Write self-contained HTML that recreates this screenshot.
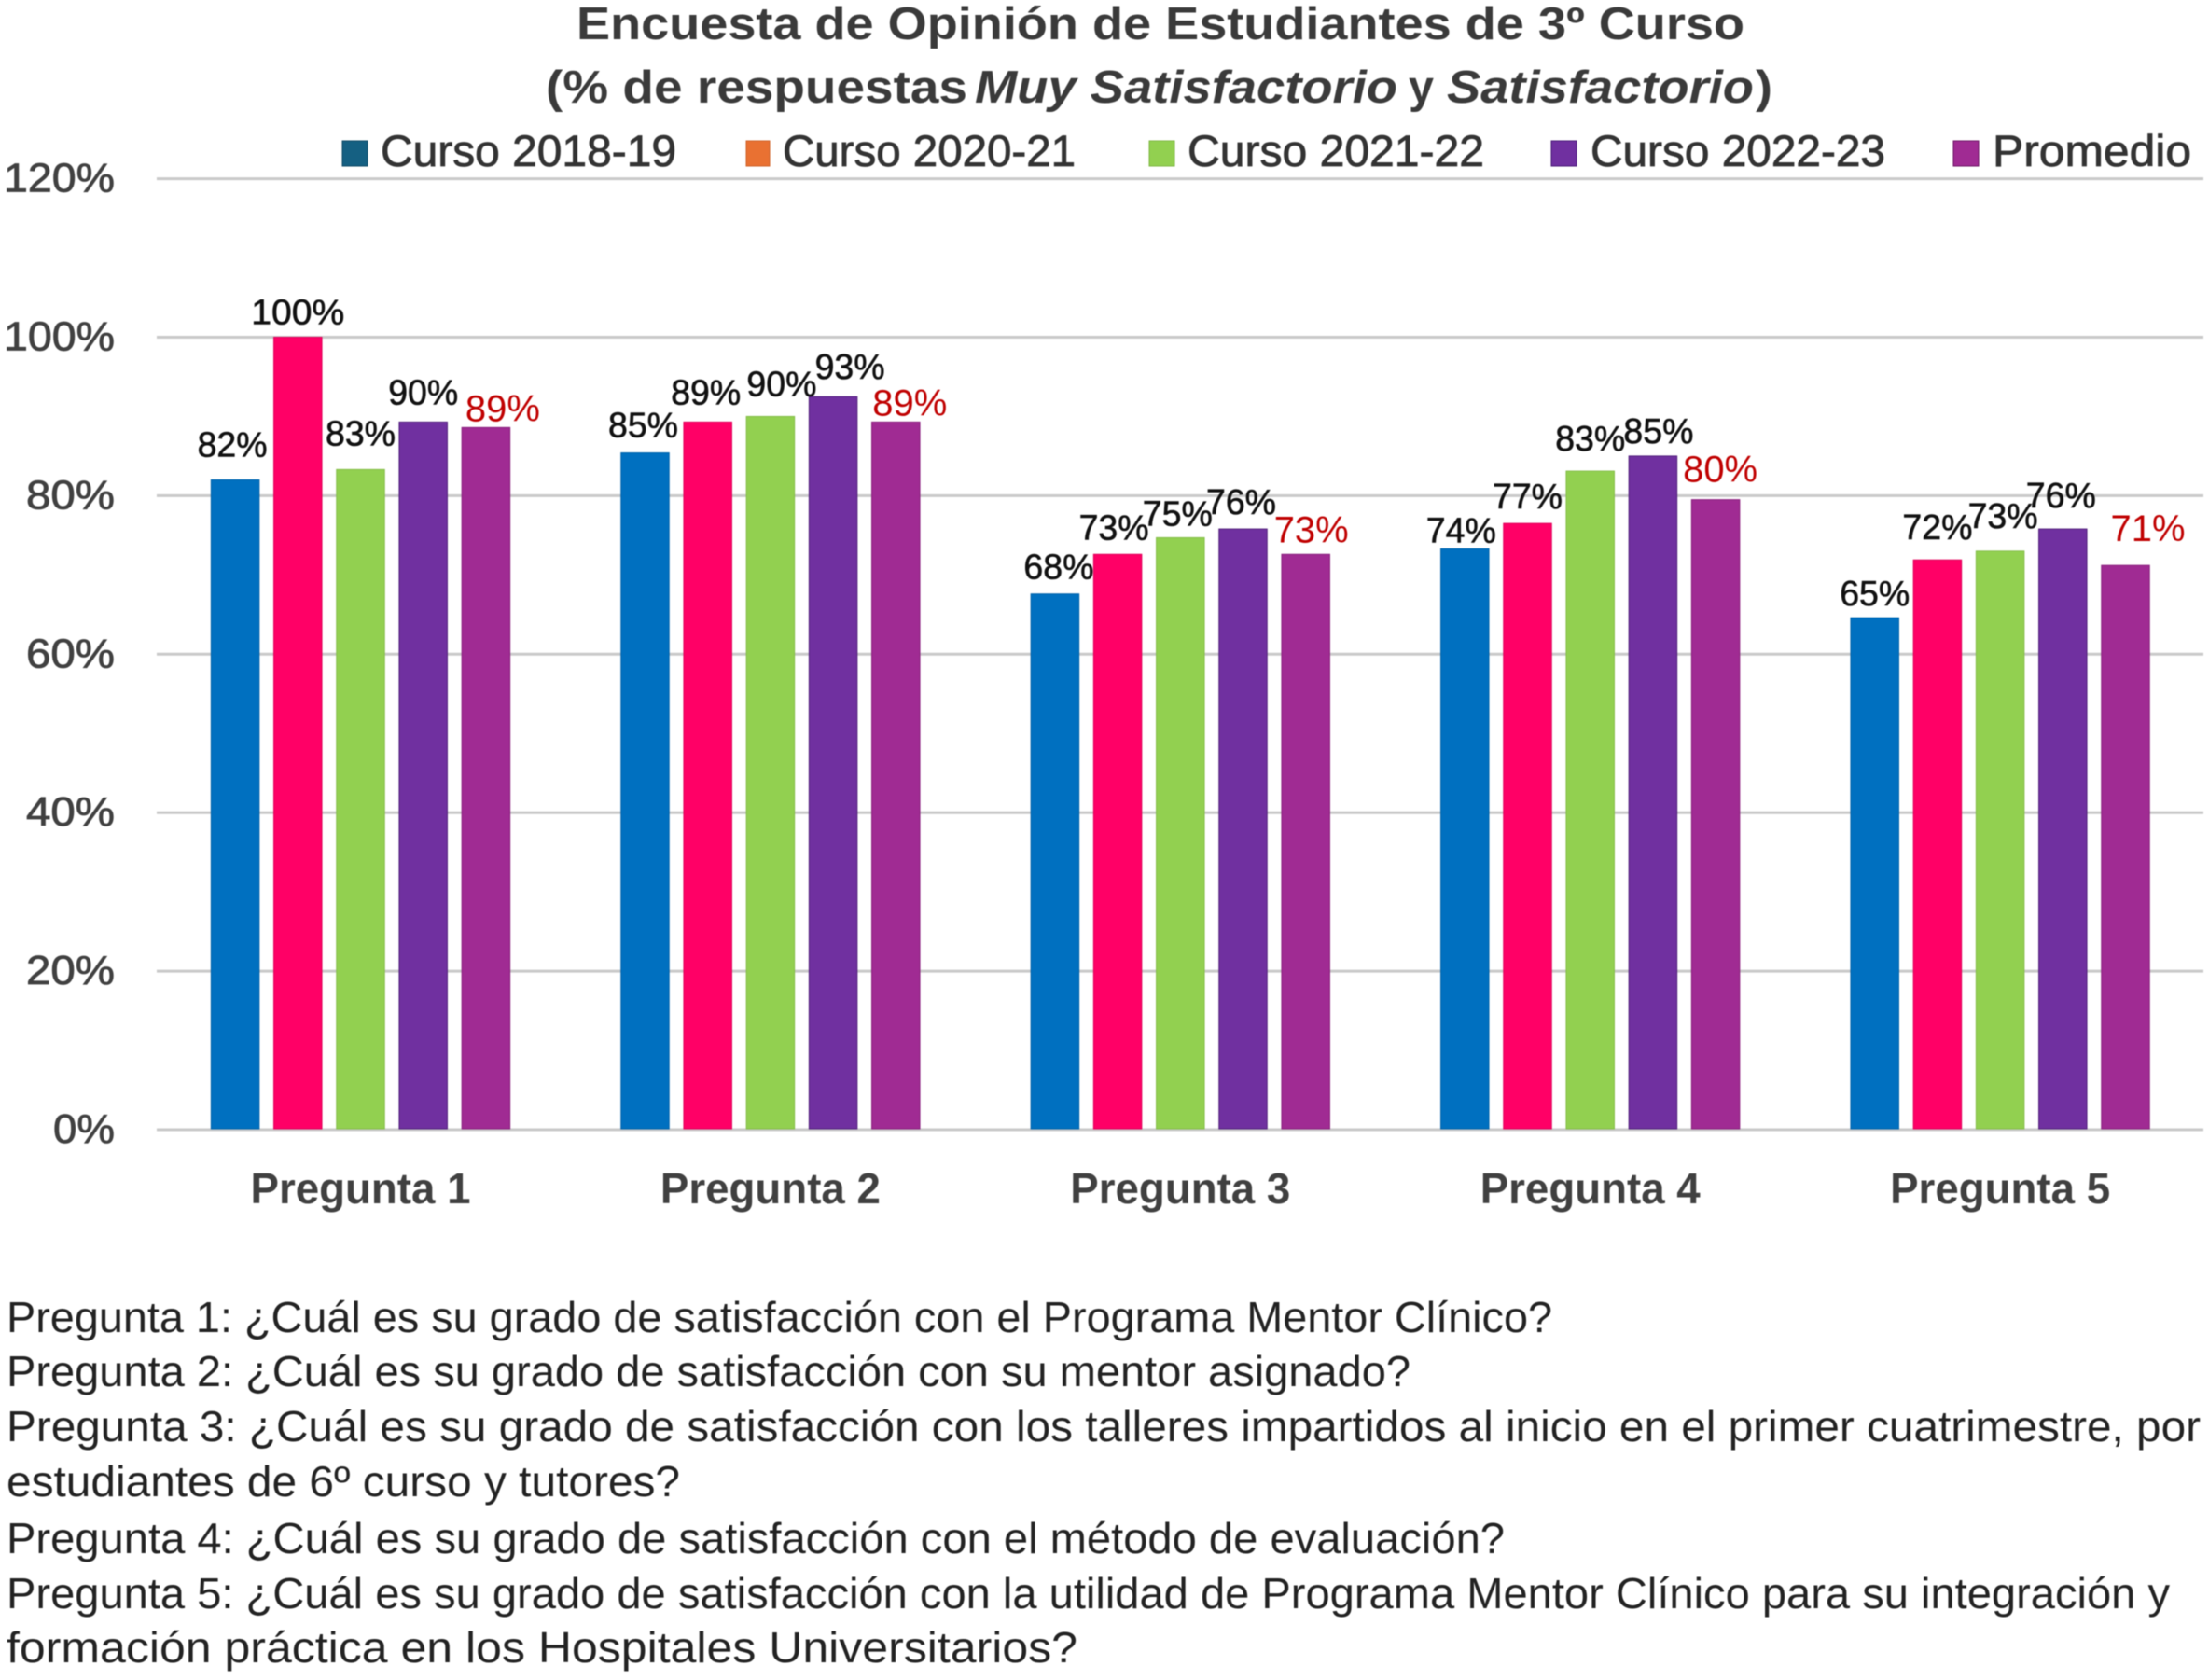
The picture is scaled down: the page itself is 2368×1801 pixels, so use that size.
<!DOCTYPE html>
<html lang="es">
<head>
<meta charset="utf-8">
<title>Encuesta de Opinión de Estudiantes de 3º Curso</title>
<style>
html,body{margin:0;padding:0;background:#fff;width:2368px;height:1801px;overflow:hidden}
svg{display:block;filter:blur(0.6px)}
text{font-family:"Liberation Sans",sans-serif}
.title{font-size:49px;font-weight:700;fill:#3a3a3a}
.legend{font-size:47px;fill:#333;font-weight:400;stroke:#333;stroke-width:.8px}
.tick{font-size:44px;fill:#404040;stroke:#404040;stroke-width:.8px}
.cat{font-size:46px;fill:#404040;font-weight:700}
.dl{font-size:38px;fill:#111;stroke:#111;stroke-width:.6px}
.note{font-size:46px;fill:#222}
</style>
</head>
<body>
<svg id="chart" xmlns="http://www.w3.org/2000/svg" width="2368" height="1801" viewBox="0 0 2368 1801">
  <rect x="0" y="0" width="2368" height="1801" fill="#ffffff"/>
  <text class="title" x="618" y="42" textLength="1252" lengthAdjust="spacingAndGlyphs">Encuesta de Opinión de Estudiantes de 3º Curso</text>
  <text class="title" x="585" y="110" textLength="452" lengthAdjust="spacingAndGlyphs">(% de respuestas</text>
  <text class="title" font-style="italic" x="1045" y="110" textLength="453" lengthAdjust="spacingAndGlyphs">Muy Satisfactorio</text>
  <text class="title" x="1510" y="110" textLength="27" lengthAdjust="spacingAndGlyphs">y</text>
  <text class="title" font-style="italic" x="1551" y="110" textLength="329" lengthAdjust="spacingAndGlyphs">Satisfactorio</text>
  <text class="title" x="1882" y="110" textLength="18" lengthAdjust="spacingAndGlyphs">)</text>

  <g>
    <rect x="367" y="151" width="27" height="27" fill="#156082" stroke="#0f4a66" stroke-width="1"/>
    <text class="legend" x="408" y="178" textLength="317" lengthAdjust="spacingAndGlyphs">Curso 2018-19</text>
    <rect x="800" y="151" width="25" height="27" fill="#E97132" stroke="#d0622a" stroke-width="1"/>
    <text class="legend" x="839" y="178" textLength="314" lengthAdjust="spacingAndGlyphs">Curso 2020-21</text>
    <rect x="1232" y="151" width="27" height="27" fill="#92D050" stroke="#7fb845" stroke-width="1"/>
    <text class="legend" x="1273" y="178" textLength="318" lengthAdjust="spacingAndGlyphs">Curso 2021-22</text>
    <rect x="1663" y="151" width="27" height="27" fill="#7030A0" stroke="#4a1a78" stroke-width="1"/>
    <text class="legend" x="1705" y="178" textLength="316" lengthAdjust="spacingAndGlyphs">Curso 2022-23</text>
    <rect x="2094" y="151" width="27" height="27" fill="#A02B93" stroke="#6e1566" stroke-width="1"/>
    <text class="legend" x="2136" y="178" textLength="213" lengthAdjust="spacingAndGlyphs">Promedio</text>
  </g>

  <g id="grid"></g>
  <g id="yticks"></g>
  <g id="bars"></g>
  <g id="labels"></g>
  <g id="cats"></g>

  <g>
    <text class="note" x="7" y="1428" textLength="1657" lengthAdjust="spacingAndGlyphs">Pregunta 1: ¿Cuál es su grado de satisfacción con el Programa Mentor Clínico?</text>
    <text class="note" x="7" y="1486" textLength="1505" lengthAdjust="spacingAndGlyphs">Pregunta 2: ¿Cuál es su grado de satisfacción con su mentor asignado?</text>
    <text class="note" x="7" y="1545" textLength="2352" lengthAdjust="spacingAndGlyphs">Pregunta 3: ¿Cuál es su grado de satisfacción con los talleres impartidos al inicio en el primer cuatrimestre, por</text>
    <text class="note" x="7" y="1604" textLength="722" lengthAdjust="spacingAndGlyphs">estudiantes de 6º curso y tutores?</text>
    <text class="note" x="7" y="1665" textLength="1606" lengthAdjust="spacingAndGlyphs">Pregunta 4: ¿Cuál es su grado de satisfacción con el método de evaluación?</text>
    <text class="note" x="7" y="1724" textLength="2319" lengthAdjust="spacingAndGlyphs">Pregunta 5: ¿Cuál es su grado de satisfacción con la utilidad de Programa Mentor Clínico para su integración y</text>
    <text class="note" x="7" y="1782" textLength="1148" lengthAdjust="spacingAndGlyphs">formación práctica en los Hospitales Universitarios?</text>
  </g>
</svg>
<script>
const categories = ["Pregunta 1", "Pregunta 2", "Pregunta 3", "Pregunta 4", "Pregunta 5"];
const seriesNames = ["curso-2018-19", "curso-2020-21", "curso-2021-22", "curso-2022-23", "promedio"];
const curso201819 = [82, 85.4, 67.6, 73.3, 64.6];
const curso202021 = [100, 89.3, 72.6, 76.5, 71.9];
const curso202122 = [83.3, 90, 74.7, 83.1, 73];
const curso202223 = [89.3, 92.5, 75.8, 85, 75.8];
const promedio = [88.6, 89.3, 72.6, 79.5, 71.2];
const labels201819 = ["82%", "85%", "68%", "74%", "65%"];
const labels202021 = ["100%", "89%", "73%", "77%", "72%"];
const labels202122 = ["83%", "90%", "75%", "83%", "73%"];
const labels202223 = ["90%", "93%", "76%", "85%", "76%"];
const labelsPromedio = ["89%", "89%", "73%", "80%", "71%"];
const tickValues = [0, 20, 40, 60, 80, 100, 120];
const tickLabels = ["0%", "20%", "40%", "60%", "80%", "100%", "120%"];

const allValues = [curso201819, curso202021, curso202122, curso202223, promedio];
const allLabels = [labels201819, labels202021, labels202122, labels202223, labelsPromedio];
const barColors = ["#0070C0", "#FF0066", "#92D050", "#7030A0", "#A02B93"];
const barEdges = ["#0063ab", "#e0005a", "#84bd48", "#52207d", "#8a1f7e"];
// hand-placed label offsets from each bar's default spot (series, then category)
const nudgeX = [[-3,-2,4,-4,0],[0,-2,-4,0,0],[0,12,-3,0,3],[0,18,-2,6,-2],[18,15,6,5,24]];
const nudgeY = [[38,30,29,20,26],[27,32,29,29,35],[39,35,26,35,38],[32,32,29,27,36],[20,20,26,32,39]];

const NS = "http://www.w3.org/2000/svg";
const plotLeft = 168, plotRight = 2362, baseY = 1211, pxPerPct = 8.495;
const catW = 439.4, firstCenter = 386.5;
const barW = 51.5, barStep = 67.2;
function yScale(v) { return baseY - v * pxPerPct; }
function catCenter(i) { return firstCenter + catW * i; }
function barCenter(i, s) { return catCenter(i) + (s - (allValues.length - 1) / 2) * barStep; }
function make(tag, attrs, parent, txt) {
  const el = document.createElementNS(NS, tag);
  for (const k in attrs) el.setAttribute(k, attrs[k]);
  if (txt !== undefined) el.textContent = txt;
  parent.appendChild(el);
  return el;
}
const gGrid = document.getElementById("grid");
const gTicks = document.getElementById("yticks");
const gBars = document.getElementById("bars");
const gLabels = document.getElementById("labels");
const gCats = document.getElementById("cats");

tickValues.forEach(function (v, i) {
  const line = make("line", {x1: plotLeft, x2: plotRight, y1: yScale(v), y2: yScale(v), stroke: "#c9c9c9", "stroke-width": 3}, gGrid);
  
  
  const lab = tickLabels[i];
  const w = lab.length === 4 ? 119 : lab.length === 3 ? 95 : 66;
  const t = make("text", {class: "tick", x: 123 - w, y: yScale(v) + 14, textLength: w, lengthAdjust: "spacingAndGlyphs"}, gTicks, lab);
  
  
});

categories.forEach(function (c, i) {
  const t = make("text", {class: "cat", x: catCenter(i) - 118, y: 1290, textLength: 236, lengthAdjust: "spacingAndGlyphs"}, gCats, c);
  
  
  allValues.forEach(function (vals, s) {
    const top = yScale(vals[i]);
    const cx = barCenter(i, s);
    const r = make("rect", {x: cx - barW / 2, y: top, width: barW, height: baseY - top - 1, fill: barColors[s], stroke: barEdges[s], "stroke-width": 1}, gBars);
    
    
    const txt = allLabels[s][i];
    const isAvg = s === allValues.length - 1;
    const w = txt.length === 4 ? 100 : isAvg ? 80 : 75;
    const lx = cx + nudgeX[s][i] - w / 2;
    const ly = top - nudgeY[s][i] + 13;
    const d = make("text", {class: "dl", x: lx, y: ly, textLength: w, lengthAdjust: "spacingAndGlyphs"}, gLabels, txt);
    if (isAvg) { d.setAttribute("style", "fill:#C00000;stroke:none;font-size:40px"); }
    
    
  });
});
</script>
</body>
</html>
